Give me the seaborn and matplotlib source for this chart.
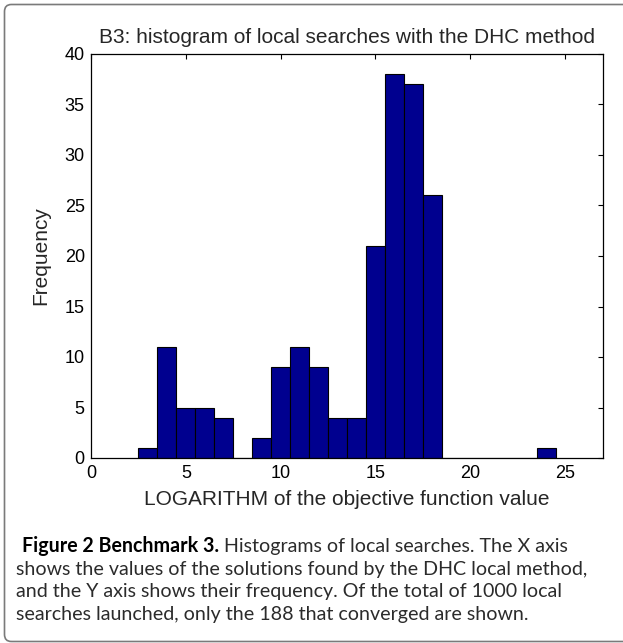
import numpy as np
import pandas as pd
import matplotlib
matplotlib.use("Agg")
import matplotlib.pyplot as plt
import seaborn as sns
from matplotlib.patches import FancyBboxPatch

# bin centres (log of objective value) and counts
bin_centers = [3, 4, 5, 6, 7, 8, 9, 10, 11, 12, 13, 14, 15, 16, 17, 18, 24]
counts = [1, 11, 5, 5, 4, 0, 2, 9, 11, 9, 4, 4, 21, 38, 37, 26, 1]
x_ticks = [0, 5, 10, 15, 20, 25]
y_ticks = [0, 5, 10, 15, 20, 25, 30, 35, 40]

caption_bold = "Figure 2 Benchmark 3."
caption_lines = [
    "Histograms of local searches. The X axis",
    "shows the values of the solutions found by the DHC local method,",
    "and the Y axis shows their frequency. Of the total of 1000 local",
    "searches launched, only the 188 that converged are shown.",
]

df = pd.DataFrame({"logval": bin_centers, "n": counts})

sns.set_style("white")
plt.rcParams["font.family"] = ["Liberation Sans", "DejaVu Sans"]

W, H = 623, 643
fig = plt.figure(figsize=(W / 100, H / 100), dpi=100)
ax = fig.add_axes([91 / W, 1 - 458 / H, 512 / W, 404 / H])

sns.histplot(data=df, x="logval", weights="n", discrete=True,
             color="#00008F", edgecolor="black", linewidth=0.8, alpha=1.0, ax=ax)

ax.set_xlim(0, 27)
ax.set_ylim(0, 40)
ax.set_xticks(x_ticks)
ax.set_yticks(y_ticks)
ax.tick_params(direction="in", length=3.5, width=0.8, top=True, right=True,
               labelsize=13, colors="black")
ax.tick_params(axis="x", pad=5)
ax.tick_params(axis="y", pad=4.5)
for s in ax.spines.values():
    s.set_visible(True)
    s.set_color("black")
    s.set_linewidth(0.9)

ax.set_title("B3: histogram of local searches with the DHC method", fontsize=15, pad=8)
ax.set_xlabel("LOGARITHM of the objective function value", fontsize=15, labelpad=6)
ax.set_ylabel("Frequency", fontsize=15, labelpad=10)

# rounded frame around figure + caption (right side runs off the picture)
frame = FancyBboxPatch((4.5 / W, 1.5 / H), 1.05, 1 - 6 / H,
                       boxstyle="round,pad=0,rounding_size=0.011",
                       transform=fig.transFigure, facecolor="none", edgecolor="#7a7a7a",
                       linewidth=1.2, clip_on=False)
fig.patches.append(frame)

cap_font = ["Lato", "DejaVu Sans"]
cap_size = 14.1
y_lines = [546.5, 569.5, 592, 614.5]

t_bold = fig.text(22 / W, 1 - y_lines[0] / H, caption_bold, fontsize=cap_size,
                  fontweight="bold", family=cap_font, va="center", ha="left", color="black")
fig.canvas.draw()
bb = t_bold.get_window_extent()
fig.text((bb.x1 + 5) / W, 1 - y_lines[0] / H, caption_lines[0], fontsize=cap_size,
         family=cap_font, va="center", ha="left", color="#2b2b2b")
for y, line in zip(y_lines[1:], caption_lines[1:]):
    fig.text(16 / W, 1 - y / H, line, fontsize=cap_size, family=cap_font,
             va="center", ha="left", color="#2b2b2b")

fig.savefig("out.png", dpi=100)
